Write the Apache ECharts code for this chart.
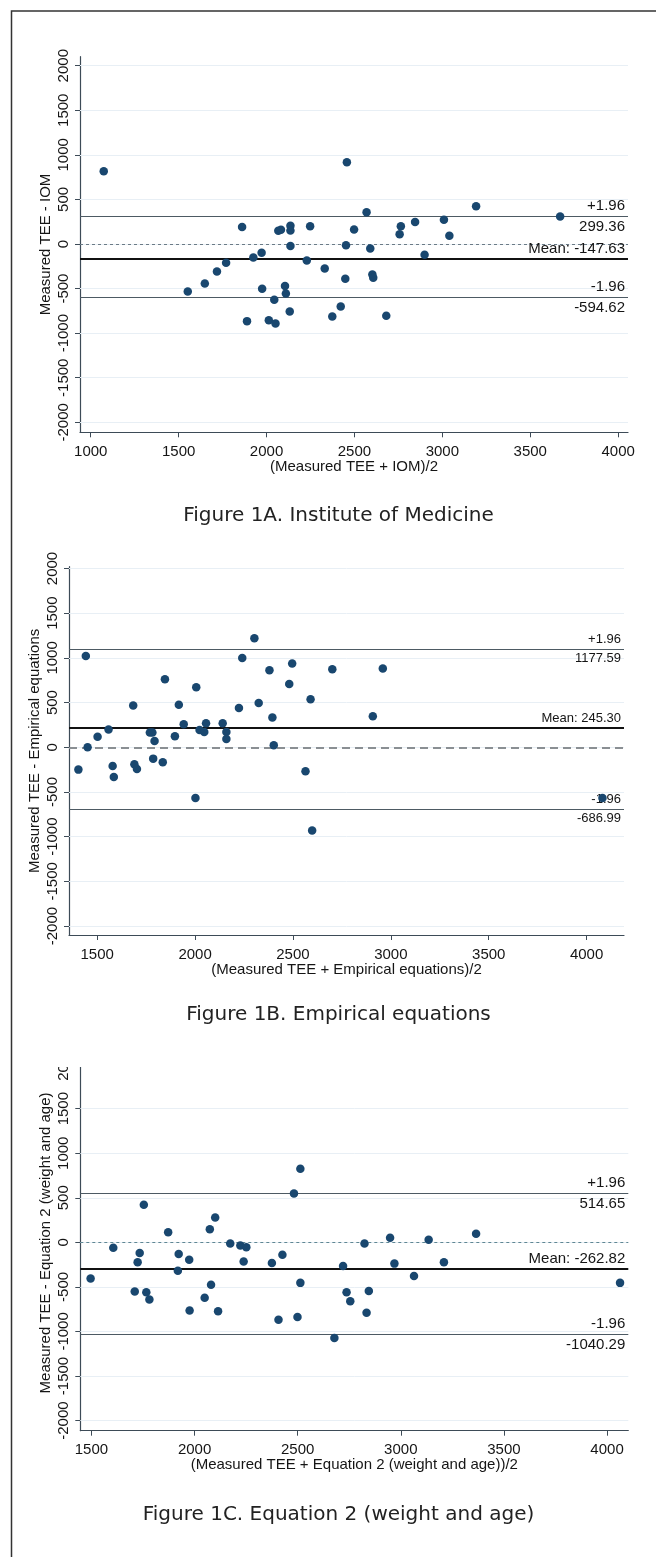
<!DOCTYPE html>
<html>
<head>
<meta charset="utf-8">
<script src="https://cdn.jsdelivr.net/npm/echarts@6/dist/echarts.min.js"></script>
<style>
html, body { margin: 0; padding: 0; background: #fff; }
#chart { width: 656px; height: 1557px; }
</style>
</head>
<body>
<div id="chart"></div>
<script>
// tick values
var yTicks = [-2000, -1500, -1000, -500, 0, 500, 1000, 1500, 2000];
var xTicksA = [1000, 1500, 2000, 2500, 3000, 3500, 4000];
var xTicksB = [1500, 2000, 2500, 3000, 3500, 4000];
var xTicksC = [1500, 2000, 2500, 3000, 3500, 4000];

// Figure 1A - Institute of Medicine
var iomX = [1074, 2457, 3192, 3670, 2569, 1861, 2067, 2082, 2136, 2136, 2248, 2498, 2764, 2757, 2845, 3009, 3040, 2136, 2452, 2590, 2899, 1972, 1925, 1770, 2229, 1718, 2331, 2602, 2607, 2448, 1649, 1552, 1975, 2105, 2110, 2044, 2132, 2422, 2374, 2681, 1889, 2013, 2051];
var iomY = [816, 917, 424, 308, 357, 192, 148, 159, 204, 151, 200, 162, 200, 110, 248, 271, 92, -21, -13, -50, -121, -99, -151, -211, -185, -308, -275, -342, -379, -390, -443, -532, -502, -472, -555, -626, -756, -700, -812, -805, -865, -854, -891];
var iomLines = [314, -168, -595];   // upper, mean, lower as drawn
var iomLabels = ['+1.96', '299.36', 'Mean: -147.63', '-1.96', '-594.62'];

// Figure 1B - Empirical equations
var empX = [1404, 1442, 1451, 1502, 1558, 1579, 1585, 1684, 1690, 1703, 1769, 1782, 1793, 1786, 1835, 1846, 1897, 1917, 1942, 2006, 2002, 2023, 2047, 2056, 2141, 2160, 2160, 2224, 2241, 2303, 2325, 2380, 2395, 2402, 2481, 2496, 2564, 2590, 2598, 2701, 2908, 2959, 4081];
var empY = [-250, 1021, 0, 119, 198, -209, -332, 466, -190, -242, 164, 164, 71, -127, -168, 761, 123, 477, 257, 671, -567, 194, 171, 268, 268, 171, 93, 440, 999, 1219, 496, 861, 332, 22, 708, 936, -268, 537, -932, 872, 347, 880, -567];
var empLines = [1096, 219, -690];
var empLabels = ['+1.96', '1177.59', 'Mean: 245.30', '-1.96', '-686.99'];

// Figure 1C - Equation 2 (weight and age)
var eq2X = [1496, 1606, 1754, 1734, 1724, 1710, 1766, 1781, 1872, 1923, 1919, 1974, 1976, 2074, 2100, 2080, 2049, 2114, 2173, 2222, 2251, 2238, 2375, 2426, 2407, 2482, 2513, 2513, 2499, 2678, 2720, 2737, 2755, 2824, 2845, 2834, 2948, 2969, 3064, 3135, 3209, 3365, 4063];
var eq2Y = [-407, -60, 423, -120, -223, -551, -559, -642, 112, -132, -319, -196, -766, 148, 279, -475, -622, -774, -12, -36, -56, -215, -231, -140, -870, 547, 826, -455, -838, -1073, -267, -559, -662, -12, -547, -790, 52, -239, -379, 28, -223, 96, -455];
var eq2Lines = [547, -299, -1033];
var eq2Labels = ['+1.96', '514.65', 'Mean: -262.82', '-1.96', '-1040.29'];

var axisFont = '"Liberation Sans", Arial, sans-serif';
var axisColor = '#3d4b57';
var textColor = '#151515';
var dotColor = '#19476f';

function pairs(xs, ys) {
    var out = [];
    for (var i = 0; i < xs.length; i++) out.push([xs[i], ys[i]]);
    return out;
}
function plain(v) { return String(v); }

var panels = [
    { grid: { left: 80, top: 56.7, width: 548, height: 375.6 }, xMin: 939, xMax: 4056, yMin: -2112, yMax: 2101,
      xTicks: xTicksA, xName: '(Measured TEE + IOM)/2', yName: 'Measured TEE - IOM',
      xs: iomX, ys: iomY, lines: iomLines, labels: iomLabels, labelSize: 15,
      zero: { color: '#6b7b86', width: 1, type: [3, 3] } },
    { grid: { left: 69, top: 566.7, width: 555, height: 368.3 }, xMin: 1356, xMax: 4191, yMin: -2100, yMax: 2020,
      xTicks: xTicksB, xName: '(Measured TEE + Empirical equations)/2', yName: 'Measured TEE - Empirical equations',
      xs: empX, ys: empY, lines: empLines, labels: empLabels, labelSize: 13,
      zero: { color: '#8a8f93', width: 2, type: [8, 5] } },
    { grid: { left: 80.3, top: 1055.2, width: 548, height: 375.5 }, xMin: 1446, xMax: 4103, yMin: -2114, yMax: 2100,
      xTicks: xTicksC, xName: '(Measured TEE + Equation 2 (weight and age))/2', yName: 'Measured TEE - Equation 2 (weight and age)',
      xs: eq2X, ys: eq2Y, lines: eq2Lines, labels: eq2Labels, labelSize: 15,
      zero: { color: '#5f8794', width: 1, type: [3, 3] } }
];

var grids = [], xAxes = [], yAxes = [], series = [];

panels.forEach(function (p, i) {
    grids.push(p.grid);
    xAxes.push({
        gridIndex: i, type: 'value', min: p.xMin, max: p.xMax,
        name: p.xName, nameLocation: 'middle', nameGap: 27, nameMoveOverlap: false,
        nameTextStyle: { fontSize: 15, color: textColor, fontFamily: axisFont },
        axisLine: { show: true, onZero: false, lineStyle: { color: axisColor, width: 1.2 } },
        axisTick: { show: true, length: 5, customValues: p.xTicks, lineStyle: { color: axisColor } },
        axisLabel: { customValues: p.xTicks, formatter: plain, fontSize: 15, margin: 12, color: textColor, fontFamily: axisFont },
        splitLine: { show: false }
    });
    yAxes.push({
        gridIndex: i, type: 'value', min: p.yMin, max: p.yMax,
        name: p.yName, nameLocation: 'middle', nameGap: 27, nameRotate: 90, nameMoveOverlap: false,
        nameTextStyle: { fontSize: 15, color: textColor, fontFamily: axisFont },
        axisLine: { show: true, onZero: false, lineStyle: { color: axisColor, width: 1.2 } },
        axisTick: { show: true, length: 5, customValues: yTicks, lineStyle: { color: axisColor } },
        axisLabel: { customValues: yTicks, formatter: plain, rotate: 90, fontSize: 15, margin: 9, color: textColor, fontFamily: axisFont },
        splitLine: { show: false }
    });

    var thin = { color: '#4d5a63', width: 1.2, type: 'solid' };
    var thick = { color: '#111', width: 2, type: 'solid' };
    var hidden = { color: 'rgba(0,0,0,0)', width: 0 };
    function lbl(text, pos) {
        return { show: true, formatter: text, position: pos, distance: [3, 3],
                 fontSize: p.labelSize, color: textColor, fontFamily: axisFont };
    }

    // faint grid lines
    series.push({
        type: 'line', xAxisIndex: i, yAxisIndex: i, data: [], z: 1, silent: true,
        markLine: {
            symbol: 'none', silent: true, animation: false,
            label: { show: false },
            lineStyle: { color: '#e8eff5', width: 1, type: 'solid' },
            data: yTicks.map(function (v) { return { yAxis: v }; })
        }
    });
    // reference lines and labels
    series.push({
        type: 'line', xAxisIndex: i, yAxisIndex: i, data: [], z: 2, silent: true,
        markLine: {
            symbol: 'none', silent: true, animation: false,
            data: [
                { yAxis: 0, lineStyle: p.zero, label: { show: false } },
                { yAxis: p.lines[0], lineStyle: thin, label: lbl(p.labels[0], 'insideEndTop') },
                { yAxis: p.lines[0], lineStyle: hidden, label: lbl(p.labels[1], 'insideEndBottom') },
                { yAxis: p.lines[1], lineStyle: thick, label: lbl(p.labels[2], 'insideEndTop') },
                { yAxis: p.lines[2], lineStyle: thin, label: lbl(p.labels[3], 'insideEndTop') },
                { yAxis: p.lines[2], lineStyle: hidden, label: lbl(p.labels[4], 'insideEndBottom') }
            ]
        }
    });
    series.push({
        type: 'scatter', xAxisIndex: i, yAxisIndex: i, z: 5,
        symbolSize: 8.5, itemStyle: { color: dotColor, opacity: 1 },
        data: pairs(p.xs, p.ys)
    });
});

var captionFont = '20px "DejaVu Sans", Verdana, sans-serif';
function caption(text, y) {
    return { type: 'text', x: 338.5, y: y, z: 100,
             style: { text: text, font: captionFont, fill: '#222',
                      align: 'center', textAlign: 'center', verticalAlign: 'middle', textVerticalAlign: 'middle' } };
}

var chart = echarts.init(document.getElementById('chart'));
chart.setOption({
    animation: false,
    grid: grids,
    xAxis: xAxes,
    yAxis: yAxes,
    series: series,
    graphic: [
        // outer frame (only top and left edges fall inside the page)
        { type: 'rect', z: 100, shape: { x: 11.5, y: 11, width: 800, height: 1700 },
          style: { fill: 'none', stroke: '#333', lineWidth: 1.5 } },
        // white patch clipping the top of panel C
        { type: 'rect', z: 100, shape: { x: 30, y: 1028, width: 625, height: 39 }, style: { fill: '#fff' } },
        caption('Figure 1A. Institute of Medicine', 516),
        caption('Figure 1B. Empirical equations', 1015),
        caption('Figure 1C. Equation 2 (weight and age)', 1515)
    ]
});
</script>
</body>
</html>
